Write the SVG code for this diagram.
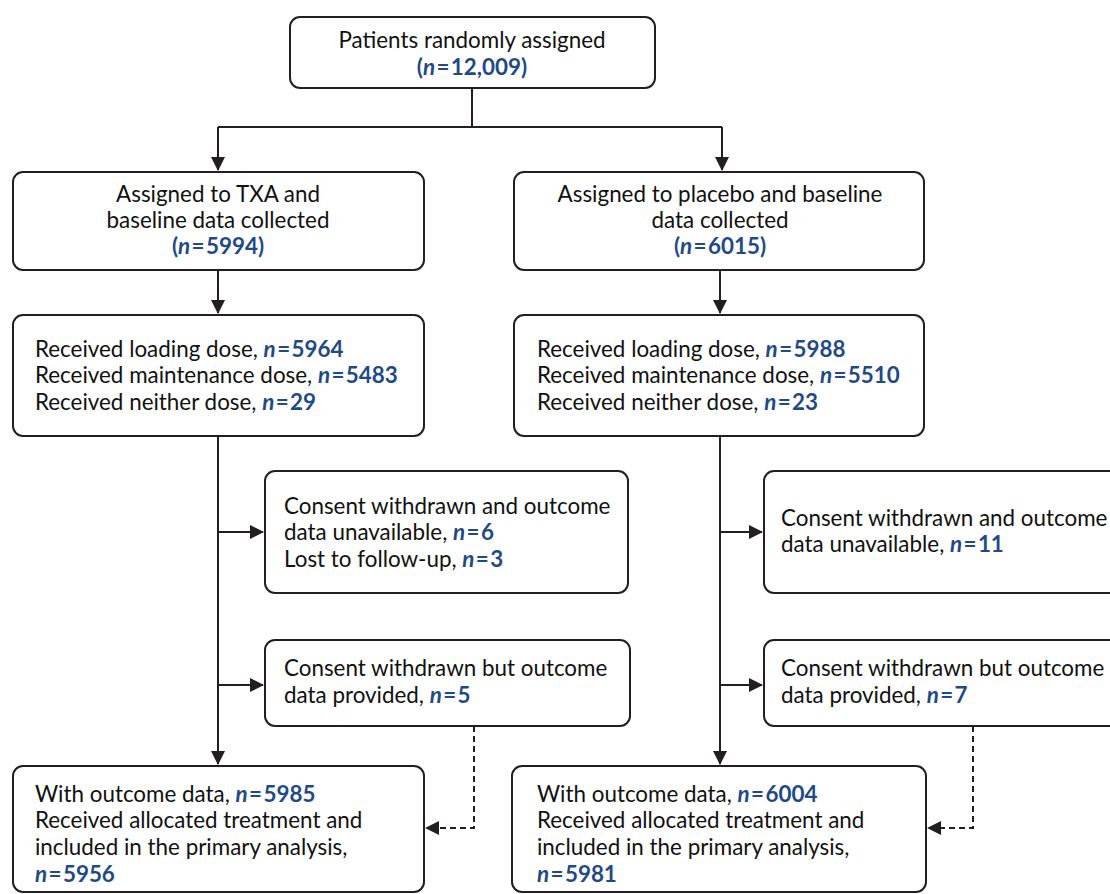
<svg xmlns="http://www.w3.org/2000/svg" width="1110" height="894" viewBox="0 0 1110 894">
<style>
.box{fill:#fff;stroke:#231f20;stroke-width:2}
.t{font-family:Lato,"Open Sans","Liberation Sans",sans-serif;font-size:22.4px;fill:#111}
.c{text-anchor:middle}
.n{fill:#1f4a86;font-weight:bold}
.i{font-style:italic}
.ln{fill:none;stroke:#231f20;stroke-width:2}
.d{stroke-dasharray:6 4}
</style>
<defs>
<marker id="ah" markerWidth="14" markerHeight="14" refX="13" refY="7" orient="auto" markerUnits="userSpaceOnUse">
<path d="M0,0 L14,7 L0,14 Z" fill="#231f20"/>
</marker>
</defs>
<g id="connectors">
<path class="ln" d="M472,88 V127"/>
<path class="ln" d="M218,127 H722"/>
<path class="ln" d="M218,127 V170" marker-end="url(#ah)"/>
<path class="ln" d="M722,127 V170" marker-end="url(#ah)"/>
<path class="ln" d="M218,270 V313" marker-end="url(#ah)"/>
<path class="ln" d="M720,270 V313" marker-end="url(#ah)"/>
<path class="ln" d="M218,436 V764" marker-end="url(#ah)"/>
<path class="ln" d="M218,532 H263" marker-end="url(#ah)"/>
<path class="ln" d="M218,685 H263" marker-end="url(#ah)"/>
<path class="ln" d="M720,436 V764" marker-end="url(#ah)"/>
<path class="ln" d="M720,532 H762" marker-end="url(#ah)"/>
<path class="ln" d="M720,685 H762" marker-end="url(#ah)"/>
<path class="ln d" d="M474,726 V828 H426" marker-end="url(#ah)"/>
<path class="ln d" d="M973,726 V828 H928" marker-end="url(#ah)"/>
</g>
<g id="randomised">
<rect class="box" x="290" y="17" width="365" height="71" rx="10"/>
<text class="t c" x="472" y="48">Patients randomly assigned</text>
<text class="t c n" x="472" y="75">(<tspan class="i">n</tspan>&#8202;=&#8202;12,009)</text>
</g>
<g id="txa">
<rect class="box" x="13" y="172" width="411" height="98" rx="10"/>
<text class="t c" x="218" y="202">Assigned to TXA and</text>
<text class="t c" x="218" y="228">baseline data collected</text>
<text class="t c n" x="218" y="254">(<tspan class="i">n</tspan>&#8202;=&#8202;5994)</text>
</g>
<g id="placebo">
<rect class="box" x="514" y="172" width="410" height="98" rx="10"/>
<text class="t c" x="720" y="202">Assigned to placebo and baseline</text>
<text class="t c" x="720" y="228">data collected</text>
<text class="t c n" x="720" y="254">(<tspan class="i">n</tspan>&#8202;=&#8202;6015)</text>
</g>
<g id="txa-dose">
<rect class="box" x="13" y="315" width="411" height="121" rx="10"/>
<text class="t" x="35" y="357">Received loading dose, <tspan class="n"><tspan class="i">n</tspan>&#8202;=&#8202;5964</tspan></text>
<text class="t" x="35" y="383">Received maintenance dose, <tspan class="n"><tspan class="i">n</tspan>&#8202;=&#8202;5483</tspan></text>
<text class="t" x="35" y="410">Received neither dose, <tspan class="n"><tspan class="i">n</tspan>&#8202;=&#8202;29</tspan></text>
</g>
<g id="placebo-dose">
<rect class="box" x="514" y="315" width="410" height="121" rx="10"/>
<text class="t" x="537" y="357">Received loading dose, <tspan class="n"><tspan class="i">n</tspan>&#8202;=&#8202;5988</tspan></text>
<text class="t" x="537" y="383">Received maintenance dose, <tspan class="n"><tspan class="i">n</tspan>&#8202;=&#8202;5510</tspan></text>
<text class="t" x="537" y="410">Received neither dose, <tspan class="n"><tspan class="i">n</tspan>&#8202;=&#8202;23</tspan></text>
</g>
<g id="txa-withdrawn">
<rect class="box" x="265" y="471" width="363" height="122" rx="10"/>
<text class="t" x="284" y="514">Consent withdrawn and outcome</text>
<text class="t" x="284" y="540">data unavailable, <tspan class="n"><tspan class="i">n</tspan>&#8202;=&#8202;6</tspan></text>
<text class="t" x="284" y="567">Lost to follow-up, <tspan class="n"><tspan class="i">n</tspan>&#8202;=&#8202;3</tspan></text>
</g>
<g id="placebo-withdrawn">
<rect class="box" x="764" y="471" width="360" height="122" rx="10"/>
<text class="t" x="781" y="526">Consent withdrawn and outcome</text>
<text class="t" x="781" y="552">data unavailable, <tspan class="n"><tspan class="i">n</tspan>&#8202;=&#8202;11</tspan></text>
</g>
<g id="txa-provided">
<rect class="box" x="265" y="640" width="365" height="86" rx="10"/>
<text class="t" x="284" y="676">Consent withdrawn but outcome</text>
<text class="t" x="284" y="703">data provided, <tspan class="n"><tspan class="i">n</tspan>&#8202;=&#8202;5</tspan></text>
</g>
<g id="placebo-provided">
<rect class="box" x="764" y="640" width="360" height="86" rx="10"/>
<text class="t" x="781" y="676">Consent withdrawn but outcome</text>
<text class="t" x="781" y="703">data provided, <tspan class="n"><tspan class="i">n</tspan>&#8202;=&#8202;7</tspan></text>
</g>
<g id="txa-outcome">
<rect class="box" x="13" y="766" width="411" height="126" rx="10"/>
<text class="t" x="35" y="802">With outcome data, <tspan class="n"><tspan class="i">n</tspan>&#8202;=&#8202;5985</tspan></text>
<text class="t" x="35" y="828">Received allocated treatment and</text>
<text class="t" x="35" y="855">included in the primary analysis,</text>
<text class="t n" x="35" y="882"><tspan class="i">n</tspan>&#8202;=&#8202;5956</text>
</g>
<g id="placebo-outcome">
<rect class="box" x="512" y="766" width="414" height="126" rx="10"/>
<text class="t" x="537" y="802">With outcome data, <tspan class="n"><tspan class="i">n</tspan>&#8202;=&#8202;6004</tspan></text>
<text class="t" x="537" y="828">Received allocated treatment and</text>
<text class="t" x="537" y="855">included in the primary analysis,</text>
<text class="t n" x="537" y="882"><tspan class="i">n</tspan>&#8202;=&#8202;5981</text>
</g>
</svg>
